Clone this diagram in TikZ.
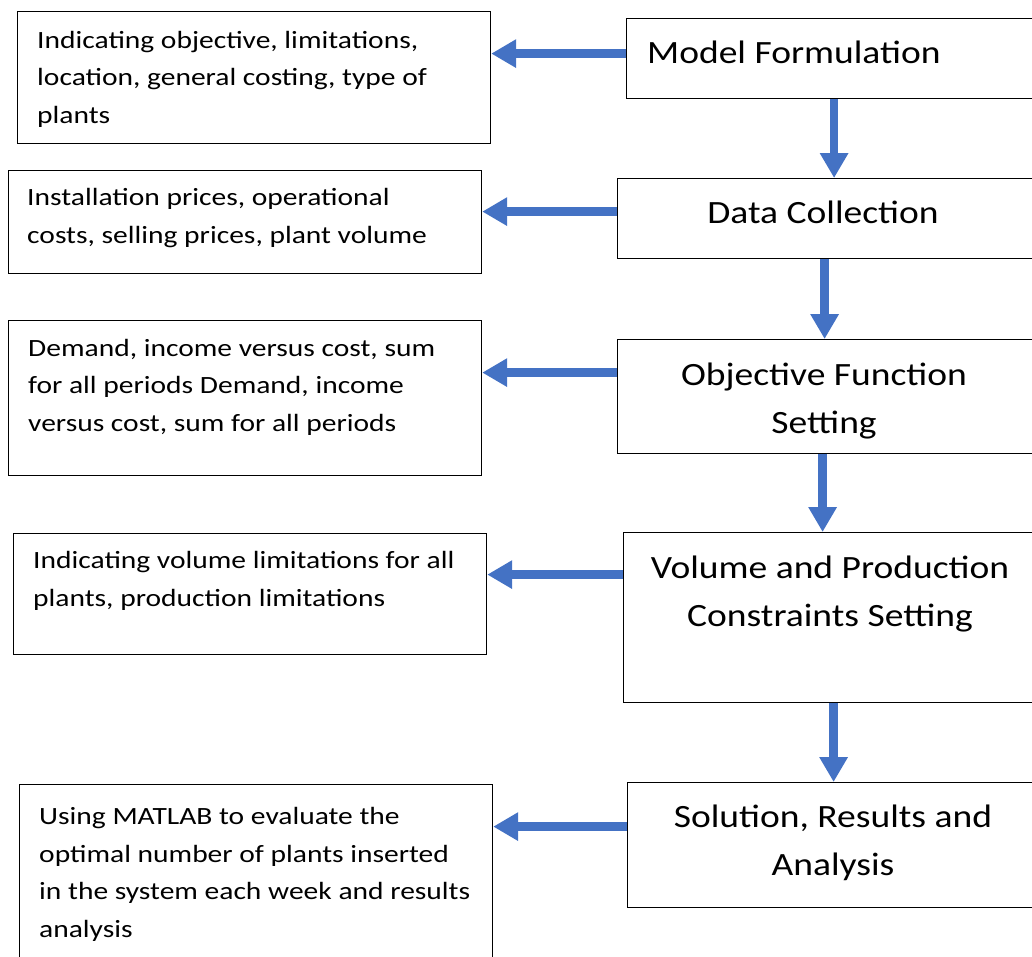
\documentclass[tikz,border=0pt]{standalone}
\usepackage{fontspec}
\setmainfont{Carlito}
\newfontfamily\notefont{Carlito}[FakeStretch=1.19]
\newfontfamily\stagefont{Carlito}[FakeStretch=1.155]
\usetikzlibrary{arrows.meta}

\definecolor{flowblue}{HTML}{4472C4}
\tikzstyle{box}=[draw,line width=1.2pt,rectangle,inner sep=0pt,anchor=north west]
\tikzstyle{notetext}=[inner sep=0pt,align=left,anchor=base west,font=\notefont\fontsize{24.8}{37.5}\selectfont]
\tikzstyle{stagetext}=[inner sep=0pt,align=center,anchor=base,font=\stagefont\fontsize{32.5}{48}\selectfont]
\tikzstyle{flow}=[draw=flowblue,line width=8.5pt,-{Triangle[width=27pt,length=25pt]}]

\begin{document}
\begin{tikzpicture}[x=1pt, y=-1pt]
    \path[use as bounding box, clip] (0,0) rectangle (1032,956);
    % First we draw the boxes, notes on the left and stages on the right
    \foreach \x/\y/\w/\h/\name in {17/11/473/132/d1, 8/170/473/103/d2,
            8/320/473/155/d3, 13/533/473/121/d4, 19/784/473/190/d5,
            626/18/419/80/m1, 617/178/428/80/m2, 617/339/428/114/m3,
            623/532/422/170/m4, 627/782/418/125/m5}
        \node[box, minimum width=\w pt, minimum height=\h pt] (\name) at (\x,\y) {};

    % Texts of the stages (placed by their last line)
    \node[stagetext, anchor=base west] (m1t) at (647,63) {Model Formulation};
    \node[stagetext] (m2t) at (823,223) {Data Collection};
    \node[stagetext] (m3t) at (824,433) {Objective Function\\ Setting};
    \node[stagetext] (m4t) at (830,626) {Volume and Production\\ Constraints Setting};
    \node[stagetext] (m5t) at (833,875) {Solution, Results and\\ Analysis};

    % Texts of the notes
    \node[notetext] (d1t) at (37,123)
        {Indicating objective, limitations,\\ location, general costing, type of\\ plants};
    \node[notetext] (d2t) at (27,243)
        {Installation prices, operational\\ costs, selling prices, plant volume};
    \node[notetext] (d3t) at (28,431)
        {Demand, income versus cost, sum\\ for all periods Demand, income\\ versus cost, sum for all periods};
    \node[notetext] (d4t) at (33,606)
        {Indicating volume limitations for all\\ plants, production limitations};
    \node[notetext] (d5t) at (39,937)
        {Using MATLAB to evaluate the\\ optimal number of plants inserted\\ in the system each week and results\\ analysis};

    % Arrows from each stage to its note
    \foreach \name/\note/\shift in {m1/d1/5, m2/d2/7, m3/d3/24, m4/d4/43, m5/d5/18.5}
        \draw[flow] ([yshift=\shift pt]\name.west) -- ([yshift=\shift pt]\name.west -| \note.east);
    % Arrows between the stages
    \foreach \source/\dest/\shift in {m1/m2/-2, m2/m3/-7, m3/m4/-9, m4/m5/-1}
        \draw[flow] ([xshift=\shift pt]\source.south) -- ([xshift=\shift pt]\source.south |- \dest.north);
\end{tikzpicture}
\end{document}
